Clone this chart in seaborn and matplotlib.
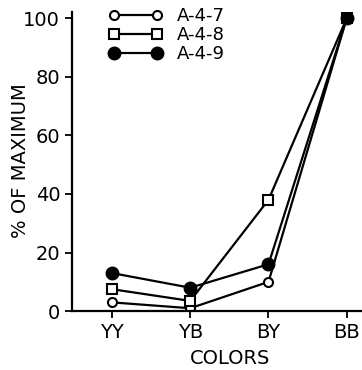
import matplotlib
matplotlib.use("Agg")
import matplotlib.pyplot as plt
import seaborn as sns
import pandas as pd

# ── Data ──────────────────────────────────────────────────────────────────────
colors = ["YY", "YB", "BY", "BB"]
a47 = [3, 1, 10, 100]
a48 = [7.5, 3.5, 38, 100]
a49 = [13, 8, 16, 100]

series = [
    ("A-4-7", a47, "o", "white", 6.5),
    ("A-4-8", a48, "s", "white", 6.5),
    ("A-4-9", a49, "o", "black", 8.5),
]

sns.set_style("ticks")
plt.rcParams["font.family"] = ["DejaVu Sans"]
plt.rcParams.update({"text.color": "black", "axes.labelcolor": "black",
                     "xtick.color": "black", "ytick.color": "black",
                     "axes.edgecolor": "black"})

fig = plt.figure(figsize=(3.62, 3.70), dpi=100)
ax = fig.add_axes([0.199, 0.159, 0.80, 0.808])

for name, vals, mk, fc, ms in series:
    df = pd.DataFrame({"color": colors, "pct": vals})
    sns.lineplot(
        data=df, x="color", y="pct", ax=ax, sort=False,
        color="black", lw=1.6, marker=mk, markersize=ms,
        markerfacecolor=fc, markeredgecolor="black", markeredgewidth=1.5,
        label=name,
    )

ax.set_xlim(-0.51, 3.19)
ax.set_ylim(0, 102)
ax.set_yticks([0, 20, 40, 60, 80, 100])
ax.set_xlabel("COLORS", fontsize=14)
ax.set_ylabel("% OF MAXIMUM", fontsize=14)
ax.xaxis.set_label_coords(0.545, -0.125)
ax.yaxis.set_label_coords(-0.145, 0.505)
ax.tick_params(axis="both", labelsize=14, direction="out", length=5, width=1.3)
for s in ("left", "bottom"):
    ax.spines[s].set_linewidth(1.6)
sns.despine(ax=ax)

ax.legend(loc="upper left", bbox_to_anchor=(0.1, 1.04), frameon=False,
          fontsize=13, numpoints=2, handlelength=3.0, handletextpad=0.8,
          labelspacing=0.05, borderaxespad=0.0)

fig.savefig("out.png", dpi=100)
